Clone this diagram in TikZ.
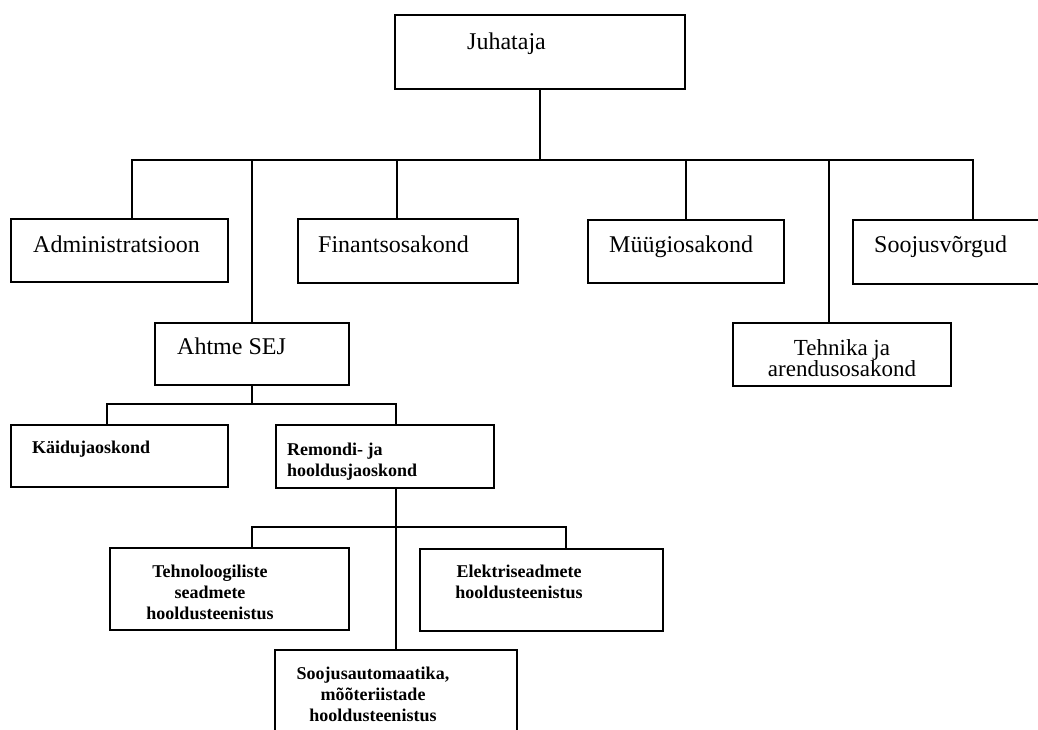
\documentclass[tikz,border=0pt]{standalone}
\usepackage{fontspec}
\setmainfont{Liberation Serif}
\usetikzlibrary{positioning,calc}
\tikzset{
	unit/.style={draw=black, line width=2pt, rectangle, inner sep=0pt},
	link/.style={draw=black, line width=2pt},
	toplabel/.style={font=\fontsize{24}{24}\selectfont, inner sep=0pt},
	twolabel/.style={font=\fontsize{23}{21}\selectfont, inner sep=0pt, align=center},
	sublabel/.style={font=\fontsize{18}{21}\selectfont\bfseries, inner sep=0pt, align=center},
}

\begin{document}
\begin{tikzpicture}[x=1pt, y=-1pt]
	\useasboundingbox (0,0) rectangle (1038,729);
	\clip (0,0) rectangle (1038,729);
	% boxes
	\node[unit, minimum width=290, minimum height=74] (juh) at (540,52) {};
	\node[unit, minimum width=217, minimum height=63] (adm) at (119.5,250.5) {};
	\node[unit, minimum width=220, minimum height=64] (fin) at (408,251) {};
	\node[unit, minimum width=196, minimum height=63] (myy) at (686,251.5) {};
	\node[unit, minimum width=192, minimum height=64] (soo) at (949,252) {};
	\node[unit, minimum width=194, minimum height=62] (ahtme) at (252,354) {};
	\node[unit, minimum width=218, minimum height=63] (teh) at (842,354.5) {};
	\node[unit, minimum width=217, minimum height=62] (kai) at (119.5,456) {};
	\node[unit, minimum width=218, minimum height=63] (rem) at (385,456.5) {};
	\node[unit, minimum width=239, minimum height=82] (tehno) at (229.5,589) {};
	\node[unit, minimum width=243, minimum height=82] (elek) at (541.5,590) {};
	\node[unit, minimum width=242, minimum height=96] (sauto) at (396,698) {};
	%
	\node[toplabel, anchor=base west] (juh-t) at (467,49) {Juhataja};
	\node[toplabel, anchor=base west] (adm-t) at (33,252) {Administratsioon};
	\node[toplabel, anchor=base west] (fin-t) at (318,252) {Finantsosakond};
	\node[toplabel, anchor=base west] (myy-t) at (609,252) {Müügiosakond};
	\node[toplabel, anchor=base west] (soo-t) at (874,252) {Soojusvõrgud};
	\node[toplabel, anchor=base west] (ahtme-t) at (177,354) {Ahtme SEJ};
	\node[twolabel, anchor=north] (teh-t) at (842,339) {Tehnika ja\\arendusosakond};
	\node[sublabel, anchor=base west] (kai-t) at (32,453) {Käidujaoskond};
	\node[sublabel, align=left, anchor=north west] (rem-t) at (287,443) {Remondi- ja\\hooldusjaoskond};
	\node[sublabel, anchor=north] (tehno-t) at (210,565) {Tehnoloogiliste\\seadmete\\hooldusteenistus};
	\node[sublabel, anchor=north] (elek-t) at (519,565) {Elektriseadmete\\hooldusteenistus};
	\node[sublabel, anchor=north] (sauto-t) at (373,667) {Soojusautomaatika,\\mõõteriistade\\hooldusteenistus};
	% connectors
	\coordinate (bus1) at (541,160);
	\coordinate (bus2) at (252,404);
	\coordinate (bus3) at (396,527);
	\coordinate (adm-in) at ([xshift=12.5]adm.north);
	\coordinate (fin-in) at ([xshift=-11]fin.north);
	\coordinate (soo-in) at ([xshift=24]soo.north);
	\coordinate (teh-in) at ([xshift=-13]teh.north);
	\coordinate (kai-in) at ([xshift=-12.5]kai.north);
	\coordinate (rem-in) at ([xshift=11]rem.north);
	\coordinate (tehno-in) at ([xshift=22.5]tehno.north);
	\coordinate (elek-in) at ([xshift=24.5]elek.north);
	\draw[link] (juh.south) -- (juh.south |- bus1);
	\draw[link] (adm-in) -- (adm-in |- bus1) -- (soo-in |- bus1) -- (soo-in);
	\draw[link] (fin-in |- bus1) -- (fin-in);
	\draw[link] (myy.north |- bus1) -- (myy.north);
	\draw[link] (ahtme.north |- bus1) -- (ahtme.north);
	\draw[link] (teh-in |- bus1) -- (teh-in);
	%
	\draw[link] (ahtme.south) -- (ahtme.south |- bus2);
	\draw[link] (kai-in) -- (kai-in |- bus2) -- (rem-in |- bus2) -- (rem-in);
	%
	\draw[link] (sauto.north |- rem.south) -- (sauto.north);
	\draw[link] (tehno-in) -- (tehno-in |- bus3) -- (elek-in |- bus3) -- (elek-in);
\end{tikzpicture}
\end{document}
